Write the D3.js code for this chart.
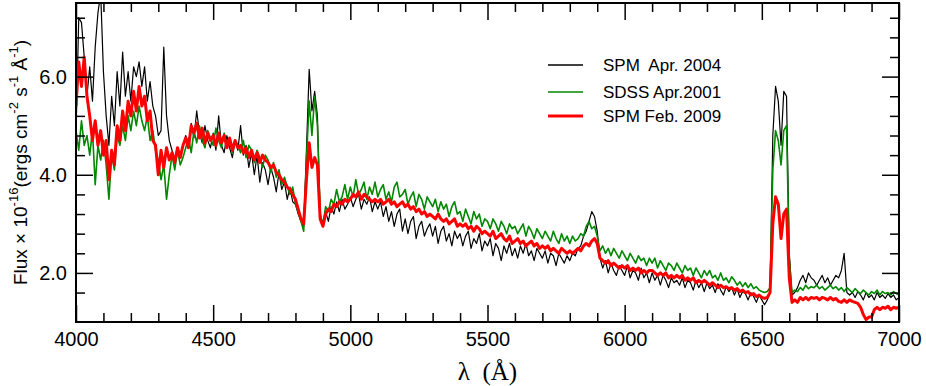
<!DOCTYPE html>
<html>
<head>
<meta charset="utf-8">
<script src="https://cdn.jsdelivr.net/npm/d3@7"></script>
<style>
  body { margin: 0; background: #fff; }
  svg { display: block; }
  .tick text { font-family: "Liberation Sans", Arial, sans-serif; font-size: 20px; fill: #000; }
  .tick line { stroke: #000; stroke-width: 1.5; }
</style>
</head>
<body>
<svg width="926" height="386"></svg>
<script>
// wavelength grid, 4000..7000 A every 10 A
var wavelength = d3.range(4000, 7001, 10);

var seriesNames = ["SPM  Apr. 2004", "SDSS Apr.2001", "SPM Feb. 2009"];

var xMajor = [4000, 4500, 5000, 5500, 6000, 6500, 7000];
var yMajor = [2.0, 4.0, 6.0];
var yMinor = [1.6, 2.4, 2.8, 3.2, 3.6, 4.4, 4.8, 5.2, 5.6, 6.4, 6.8, 7.2];

// SPM Apr. 2004 (black)
var spm2004 = [
  4.80, 7.20, 7.10, 6.40, 5.60, 6.20, 5.50, 6.60, 7.30, 7.70,
  6.10, 5.20, 4.60, 5.60, 5.00, 6.10, 5.40, 6.50, 5.60, 6.10,
  5.50, 6.20, 6.00, 6.30, 5.80, 6.20, 5.50, 5.90, 5.40, 5.20,
  4.80, 4.90, 6.60, 5.20, 4.70, 4.50, 4.30, 4.50, 4.35, 4.60,
  4.80, 4.60, 5.05, 4.75, 5.30, 4.85, 4.65, 5.00, 4.70, 4.55,
  4.85, 4.50, 5.20, 4.60, 4.45, 4.80, 4.55, 4.35, 4.70, 4.50,
  5.00, 4.40, 4.60, 4.15, 4.45, 4.00, 4.40, 3.85, 4.25, 4.10,
  3.80, 4.15, 3.95, 3.65, 4.05, 3.70, 3.85, 3.50, 3.75, 3.45,
  3.40, 3.20, 3.05, 2.95, 4.50, 6.15, 5.30, 5.70, 5.20, 3.20,
  2.95, 3.25, 3.05, 3.35, 3.20, 3.45, 3.25, 3.50, 3.30, 3.40,
  3.55, 3.35, 3.50, 3.60, 3.30, 3.50, 3.40, 3.55, 3.25, 3.45,
  3.30, 3.45, 3.15, 3.35, 3.05, 3.25, 2.95, 3.20, 3.30, 2.85,
  3.10, 2.80, 3.05, 3.15, 2.70, 2.95, 3.05, 2.75, 2.90, 3.00,
  2.75, 2.95, 2.60, 2.85, 2.95, 2.65, 2.80, 2.55, 2.85, 2.70,
  2.80, 2.55, 2.75, 2.85, 2.50, 2.70, 2.60, 2.80, 2.45, 2.65,
  2.55, 2.70, 2.35, 2.60, 2.50, 2.25, 2.55, 2.40, 2.60, 2.35,
  2.50, 2.30, 2.55, 2.40, 2.60, 2.35, 2.45, 2.25, 2.50, 2.40,
  2.30, 2.45, 2.20, 2.40, 2.35, 2.15, 2.40, 2.30, 2.20, 2.35,
  2.25, 2.40, 2.35, 2.50, 2.55, 2.75, 2.85, 3.05, 3.25, 3.15,
  2.85, 2.30, 2.10, 2.25, 2.00, 2.20, 2.05, 1.95, 2.15, 2.05,
  1.95, 2.15, 1.90, 2.05, 2.00, 1.85, 2.10, 1.90, 2.00, 1.80,
  2.00, 1.85, 1.95, 1.75, 1.95, 1.85, 1.70, 1.90, 1.80, 1.85,
  1.75, 1.90, 1.70, 1.85, 1.80, 1.65, 1.85, 1.70, 1.80, 1.62,
  1.80, 1.68, 1.75, 1.60, 1.78, 1.65, 1.55, 1.72, 1.62, 1.70,
  1.55, 1.68, 1.50, 1.62, 1.58, 1.45, 1.60, 1.52, 1.40, 1.55,
  1.45, 1.35, 1.45, 1.60, 4.80, 5.80, 5.50, 4.60, 5.70, 5.60,
  2.40, 1.55, 1.60, 1.70, 1.85, 1.95, 1.80, 2.00, 1.90, 1.85,
  1.75, 1.85, 1.95, 1.80, 1.90, 1.75, 1.85, 1.95, 1.90, 2.05,
  2.40, 1.60, 1.55, 1.60, 1.50, 1.62, 1.55, 1.45, 1.60, 1.50,
  1.55, 1.45, 1.60, 1.50, 1.55, 1.48, 1.58, 1.50, 1.55, 1.45,
  1.50
];

// SDSS Apr. 2001 (green)
var sdss2001 = [
  4.90, 4.50, 5.10, 4.60, 4.80, 4.40, 4.90, 3.80, 4.60, 4.30,
  4.70, 4.20, 3.50, 4.40, 4.10, 4.80, 4.60, 5.00, 4.70, 5.20,
  4.90, 5.30, 5.00, 5.40, 5.10, 4.90, 5.20, 4.70, 4.90, 4.50,
  4.30, 3.90, 4.20, 3.50, 4.00, 4.40, 4.10, 4.50, 4.20, 4.35,
  4.55, 4.75, 4.45, 4.90, 4.65, 5.00, 4.70, 4.55, 4.90, 4.75,
  4.60, 4.95, 4.70, 4.55, 4.85, 4.60, 4.75, 4.45, 4.70, 4.60,
  4.45, 4.70, 4.35, 4.60, 4.50, 4.25, 4.50, 4.35, 4.15, 4.40,
  4.30, 4.05, 4.25, 3.95, 4.10, 3.80, 3.95, 3.75, 3.60, 3.75,
  3.40, 3.25, 3.05, 2.85, 4.30, 5.50, 4.80, 5.60, 5.00, 3.20,
  3.00, 3.35, 3.25, 3.50, 3.40, 3.70, 3.45, 3.55, 3.80, 3.50,
  3.75, 3.55, 3.90, 3.60, 3.70, 3.85, 3.50, 3.75, 3.60, 3.85,
  3.55, 3.70, 3.80, 3.50, 3.65, 3.45, 3.75, 3.85, 3.55, 3.60,
  3.70, 3.40, 3.55, 3.65, 3.35, 3.60, 3.50, 3.30, 3.55, 3.45,
  3.35, 3.50, 3.25, 3.45, 3.30, 3.40, 3.15, 3.35, 3.45, 3.20,
  3.25, 3.05, 3.30, 3.15, 3.00, 3.25, 3.10, 3.20, 2.95, 3.10,
  3.05, 2.90, 3.10, 3.00, 2.85, 3.05, 2.95, 2.80, 3.00, 2.90,
  2.95, 2.80, 2.90, 3.00, 2.75, 2.95, 2.85, 2.70, 2.90, 2.80,
  2.70, 2.85, 2.75, 2.65, 2.85, 2.70, 2.60, 2.80, 2.65, 2.75,
  2.60, 2.75, 2.65, 2.70, 2.80, 2.75, 2.95, 3.05, 2.90, 2.95,
  2.75, 2.45, 2.55, 2.40, 2.50, 2.35, 2.50, 2.40, 2.30, 2.45,
  2.35, 2.25, 2.40, 2.30, 2.20, 2.35, 2.25, 2.30, 2.15, 2.30,
  2.20, 2.30, 2.10, 2.25, 2.15, 2.05, 2.20, 2.15, 2.05, 2.20,
  2.10, 2.00, 2.15, 2.05, 2.10, 1.95, 2.10, 2.00, 1.90, 2.05,
  1.95, 2.05, 1.90, 1.95, 1.85, 2.00, 1.85, 1.90, 1.80, 1.92,
  1.85, 1.75, 1.82, 1.72, 1.80, 1.70, 1.78, 1.68, 1.72, 1.65,
  1.62, 1.60, 1.62, 1.70, 4.10, 4.90, 4.70, 4.20, 4.90, 5.00,
  2.30, 1.60, 1.65, 1.62, 1.70, 1.65, 1.75, 1.68, 1.72, 1.70,
  1.75, 1.68, 1.72, 1.65, 1.70, 1.75, 1.68, 1.72, 1.65, 1.70,
  1.62, 1.70, 1.65, 1.60, 1.68, 1.62, 1.58, 1.65, 1.60, 1.55,
  1.62, 1.58, 1.65, 1.55, 1.62, 1.58, 1.60, 1.55, 1.62, 1.58,
  1.55
];

// SPM Feb. 2009 (red)
var spm2009 = [
  5.40, 6.30, 5.80, 6.40, 5.60, 5.20, 4.70, 5.10, 4.60, 4.90,
  4.40, 4.70, 3.90, 4.50, 4.20, 5.00, 4.70, 5.30, 4.90, 5.50,
  5.20, 5.70, 5.30, 5.80, 5.40, 5.60, 5.10, 5.30, 4.70, 4.60,
  4.00, 4.50, 4.15, 4.55, 4.30, 4.45, 4.25, 4.55, 4.35, 4.60,
  4.75, 4.55, 5.00, 4.85, 5.05, 4.75, 4.95, 4.65, 4.85, 4.70,
  4.80, 4.60, 4.85, 4.65, 4.80, 4.55, 4.75, 4.50, 4.70, 4.55,
  4.60, 4.45, 4.55, 4.35, 4.50, 4.30, 4.45, 4.25, 4.40, 4.30,
  4.25, 4.15, 4.20, 4.05, 4.00, 3.90, 3.85, 3.75, 3.70, 3.60,
  3.50, 3.30, 3.10, 3.00, 3.90, 4.65, 4.15, 4.35, 4.20, 3.10,
  2.95, 3.20, 3.30, 3.25, 3.40, 3.35, 3.45, 3.40, 3.50, 3.45,
  3.50, 3.60, 3.55, 3.65, 3.50, 3.60, 3.55, 3.50, 3.45, 3.50,
  3.45, 3.50, 3.40, 3.45, 3.50, 3.40, 3.45, 3.35, 3.40, 3.45,
  3.35, 3.40, 3.30, 3.35, 3.25, 3.30, 3.20, 3.25, 3.15, 3.20,
  3.15, 3.10, 3.20, 3.10, 3.05, 3.10, 3.00, 3.05, 3.10, 2.95,
  3.00, 2.95, 3.00, 2.90, 2.95, 2.85, 2.95, 2.90, 2.80, 2.85,
  2.80, 2.75, 2.85, 2.70, 2.75, 2.80, 2.70, 2.65, 2.75, 2.60,
  2.65, 2.70, 2.60, 2.65, 2.55, 2.60, 2.65, 2.55, 2.60, 2.50,
  2.55, 2.50, 2.55, 2.45, 2.50, 2.45, 2.40, 2.50, 2.45, 2.40,
  2.45, 2.40, 2.45, 2.50, 2.45, 2.55, 2.60, 2.55, 2.65, 2.70,
  2.60, 2.30, 2.25, 2.20, 2.25, 2.15, 2.20, 2.15, 2.10, 2.15,
  2.10, 2.15, 2.05, 2.10, 2.05, 2.10, 2.00, 2.05, 2.00, 2.05,
  2.05, 2.00, 1.95, 2.00, 1.95, 2.00, 1.90, 1.95, 1.90, 1.95,
  1.90, 1.95, 1.85, 1.90, 1.85, 1.90, 1.80, 1.85, 1.80, 1.85,
  1.80, 1.75, 1.80, 1.75, 1.70, 1.75, 1.70, 1.72, 1.68, 1.70,
  1.65, 1.68, 1.62, 1.65, 1.60, 1.62, 1.55, 1.58, 1.52, 1.55,
  1.50, 1.48, 1.50, 1.60, 3.00, 3.55, 3.40, 2.70, 3.20, 3.30,
  1.90, 1.40, 1.45, 1.40, 1.50, 1.45, 1.50, 1.45, 1.50, 1.48,
  1.50, 1.45, 1.50, 1.48, 1.45, 1.50, 1.45, 1.48, 1.42, 1.40,
  1.45, 1.40, 1.45, 1.42, 1.40, 1.38, 1.30, 1.15, 1.05, 1.10,
  1.10, 1.25, 1.30, 1.25, 1.30, 1.28, 1.32, 1.25, 1.30, 1.28,
  1.30
];

var series = [
  { name: seriesNames[0], values: spm2004, color: "#000000", width: 1.2 },
  { name: seriesNames[1], values: sdss2001, color: "#008800", width: 1.6 },
  { name: seriesNames[2], values: spm2009, color: "#ff0000", width: 3 }
];

var svg = d3.select("svg");
var plotL = 76, plotR = 899, plotT = 3, plotB = 322;

var x = d3.scaleLinear().domain([4000, 7000]).range([plotL, plotR]);
var y = d3.scaleLinear().domain([1.0, 7.5]).range([plotB, plotT]);

svg.append("clipPath").attr("id", "plotclip")
  .append("rect")
  .attr("x", plotL).attr("y", plotT)
  .attr("width", plotR - plotL).attr("height", plotB - plotT);

// spectra
var line = d3.line()
  .x(function (d, i) { return x(wavelength[i]); })
  .y(function (d) { return y(d); });

svg.append("g")
  .attr("clip-path", "url(#plotclip)")
  .selectAll("path")
  .data(series)
  .enter()
  .append("path")
  .attr("fill", "none")
  .attr("stroke", function (d) { return d.color; })
  .attr("stroke-width", function (d) { return d.width; })
  .attr("stroke-linejoin", "round")
  .attr("d", function (d) { return line(d.values); });

// axes (ticks inward on all four sides)
var xMinor = d3.range(4100, 7000, 100).filter(function (v) { return v % 500 !== 0; });

svg.append("g").attr("transform", "translate(0," + plotB + ")")
  .call(d3.axisBottom(x).tickValues(xMajor).tickSizeInner(-17).tickSizeOuter(0).tickPadding(10).tickFormat(d3.format("d")));
svg.append("g").attr("transform", "translate(0," + plotB + ")")
  .call(d3.axisBottom(x).tickValues(xMinor).tickSizeInner(-9).tickSizeOuter(0).tickFormat(""));
svg.append("g").attr("transform", "translate(0," + plotT + ")")
  .call(d3.axisTop(x).tickValues(xMajor).tickSizeInner(-17).tickSizeOuter(0).tickFormat(""));
svg.append("g").attr("transform", "translate(0," + plotT + ")")
  .call(d3.axisTop(x).tickValues(xMinor).tickSizeInner(-9).tickSizeOuter(0).tickFormat(""));

svg.append("g").attr("transform", "translate(" + plotL + ",0)")
  .call(d3.axisLeft(y).tickValues(yMajor).tickSizeInner(-17).tickSizeOuter(0).tickPadding(9).tickFormat(d3.format(".1f")));
svg.append("g").attr("transform", "translate(" + plotL + ",0)")
  .call(d3.axisLeft(y).tickValues(yMinor).tickSizeInner(-9).tickSizeOuter(0).tickFormat(""));
svg.append("g").attr("transform", "translate(" + plotR + ",0)")
  .call(d3.axisRight(y).tickValues(yMajor).tickSizeInner(-17).tickSizeOuter(0).tickFormat(""));
svg.append("g").attr("transform", "translate(" + plotR + ",0)")
  .call(d3.axisRight(y).tickValues(yMinor).tickSizeInner(-9).tickSizeOuter(0).tickFormat(""));

svg.selectAll(".domain").remove();

svg.append("rect")
  .attr("x", plotL).attr("y", plotT)
  .attr("width", plotR - plotL).attr("height", plotB - plotT)
  .attr("fill", "none").attr("stroke", "#000").attr("stroke-width", 2);

// axis titles
svg.append("text")
  .attr("x", (plotL + plotR) / 2).attr("y", 380)
  .attr("text-anchor", "middle")
  .style("font-family", "'Liberation Serif', 'Times New Roman', serif")
  .style("font-size", "25px")
  .style("white-space", "pre")
  .text("\u03bb  (\u00c5)");

var ylab = svg.append("text")
  .attr("transform", "translate(27," + (plotT + plotB) / 2 + ") rotate(-90)")
  .attr("text-anchor", "middle")
  .style("font-family", "'Liberation Sans', Arial, sans-serif")
  .style("font-size", "19px")
  .style("white-space", "pre");

var yParts = [
  ["Flux \u00d7 10", 0], ["-16", 1], ["(ergs cm", 0], ["-2", 1],
  [" s", 0], ["-1", 1], [" \u00c5", 0], ["-1", 1], [")", 0]
];
var prevSup = 0;
yParts.forEach(function (p) {
  var sup = p[1];
  ylab.append("tspan")
    .attr("dy", sup === prevSup ? 0 : (sup ? -9 : 9))
    .style("font-size", sup ? "13px" : "19px")
    .text(p[0]);
  prevSup = sup;
});

// legend
var legend = svg.append("g");
series.forEach(function (s, i) {
  var ly = [65, 92, 116][i];
  legend.append("line")
    .attr("x1", 548).attr("x2", 583)
    .attr("y1", ly).attr("y2", ly)
    .attr("stroke", s.color)
    .attr("stroke-width", s.width === 3 ? 3 : 1.5);
  legend.append("text")
    .attr("x", 603).attr("y", ly + 6)
    .style("font-family", "'Liberation Sans', Arial, sans-serif")
    .style("font-size", "17px")
    .style("white-space", "pre")
    .text(s.name);
});
</script>
</body>
</html>
